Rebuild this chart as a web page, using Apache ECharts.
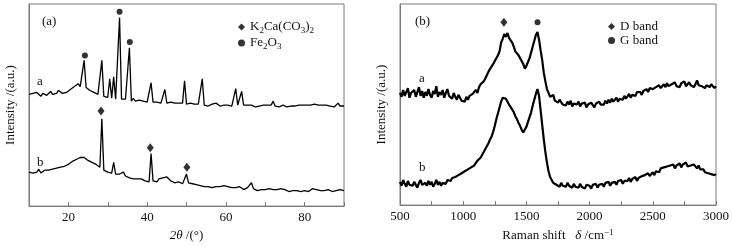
<!DOCTYPE html>
<html>
<head>
<meta charset="utf-8">
<script src="https://cdn.jsdelivr.net/npm/echarts@6/dist/echarts.min.js"></script>
<style>
html, body { margin: 0; padding: 0; background: #fff; }
#chart { width: 732px; height: 247px; }
</style>
</head>
<body>
<div id="chart"></div>
<script>
// (a) XRD, 2θ from 10 to 90 every 0.5°
const xrdStart = 10
const xrdStep = 0.5
const xrdA = [
  115, 113, 116, 114, 117, 115, 113, 116, 115, 114,
  116, 118, 115, 117, 116, 119, 117, 116, 118, 117,
  119, 120, 121, 123, 124, 126, 123, 125, 150, 122,
  120, 119, 118, 117, 116, 115, 114, 150, 113, 112,
  112, 131, 111, 133, 110, 111, 194, 110, 109, 110,
  109, 163, 108, 111, 108, 107, 109, 107, 108, 106,
  107, 109, 127, 107, 106, 107, 105, 106, 107, 120,
  106, 105, 107, 105, 106, 104, 106, 105, 106, 129,
  105, 104, 106, 104, 105, 103, 105, 104, 131, 104,
  105, 103, 104, 105, 103, 106, 104, 103, 105, 104,
  103, 104, 105, 103, 104, 121, 104, 103, 118, 104,
  103, 104, 102, 104, 103, 102, 104, 103, 102, 104,
  103, 104, 102, 104, 108, 103, 104, 102, 103, 104,
  103, 102, 104, 103, 105, 103, 102, 104, 103, 104,
  103, 104, 102, 104, 103, 105, 103, 104, 102, 104,
  103, 104, 105, 103, 104, 102, 104, 106, 103, 104,
  103
]
const xrdB = [
  35, 37, 34, 36, 35, 38, 34, 36, 37, 35,
  37, 36, 38, 37, 39, 38, 40, 39, 41, 42,
  43, 44, 46, 45, 48, 47, 50, 49, 50, 48,
  47, 46, 45, 44, 43, 41, 40, 90, 37, 36,
  35, 36, 34, 45, 33, 32, 33, 32, 35, 31,
  30, 29, 27, 28, 26, 28, 30, 28, 27, 26,
  27, 25, 54, 26, 27, 25, 28, 27, 29, 28,
  30, 28, 26, 25, 24, 26, 25, 24, 23, 25,
  33, 24, 22, 23, 21, 22, 20, 21, 22, 20,
  21, 20, 22, 19, 21, 20, 18, 20, 19, 21,
  19, 20, 18, 19, 17, 19, 18, 20, 18, 17,
  18, 19, 17, 24, 18, 17, 16, 18, 17, 16,
  17, 16, 18, 16, 17, 15, 17, 16, 18, 16,
  17, 16, 15, 17, 16, 18, 16, 17, 15, 17,
  16, 17, 15, 16, 18, 16, 17, 15, 16, 17,
  16, 15, 17, 16, 15, 17, 16, 15, 17, 16,
  16
]
const fe2o3Marks = [[24.2, 155], [33.0, 200], [35.6, 169]]
const k2caMarks = [[28.3, 98], [40.8, 60], [50.1, 40]]
const xrdLabels = [20, 40, 60, 80]

// (b) Raman, 500 to 3000 cm-1 every 12.5
const ramanStart = 500
const ramanStep = 12.5
const ramanA = [
  116, 112, 119, 113, 117, 121, 111, 116,
  114, 119, 112, 117, 122, 113, 118, 111,
  117, 113, 120, 114, 111, 118, 115, 123,
  112, 117, 114, 119, 111, 116, 120, 113,
  114, 110, 116, 112, 109, 114, 111, 108,
  110, 107, 112, 109, 113, 111, 115, 114,
  119, 116, 122, 125, 123, 128, 131, 129,
  138, 141, 139, 146, 149, 147, 155, 159,
  168, 172, 177, 174, 178, 173, 171, 168,
  164, 159, 161, 155, 152, 149, 146, 141,
  144, 148, 152, 158, 164, 170, 176, 179,
  171, 160, 150, 137, 128, 120, 116, 112,
  111, 114, 108, 110, 106, 109, 107, 104,
  106, 103, 107, 104, 108, 102, 105, 103,
  104, 107, 102, 105, 103, 106, 101, 104,
  103, 106, 104, 101, 105, 103, 107, 104,
  106, 104, 108, 105, 109, 106, 110, 107,
  108, 111, 107, 110, 112, 109, 113, 110,
  112, 115, 111, 114, 116, 113, 117, 115,
  117, 114, 118, 116, 120, 117, 121, 119,
  120, 118, 122, 120, 124, 121, 123, 125,
  122, 126, 123, 121, 125, 124, 127, 123,
  125, 122, 126, 124, 128, 123, 125, 127,
  124, 126, 122, 125, 129, 124, 126, 123,
  125, 121, 124, 126, 122, 125, 123, 121,
  123
]
const ramanB = [
  24, 20, 26, 22, 19, 25, 21, 23,
  20, 24, 22, 18, 23, 26, 21, 19,
  23, 20, 25, 21, 24, 19, 22, 26,
  21, 24, 20, 23, 25, 22, 26, 24,
  25, 28, 26, 29, 27, 31, 29, 33,
  31, 35, 33, 37, 35, 39, 38, 41,
  43, 46, 45, 49, 51, 55, 58, 60,
  64, 68, 71, 76, 82, 89, 95, 101,
  107, 111, 113, 110, 108, 104, 102, 99,
  96, 92, 89, 85, 82, 78, 75, 77,
  81, 86, 91, 96, 103, 109, 115, 120,
  113, 98, 83, 68, 55, 44, 35, 29,
  26, 23, 25, 21, 22, 19, 23, 20,
  22, 19, 23, 20, 21, 18, 22, 19,
  21, 18, 22, 19, 20, 17, 21, 19,
  20, 17, 21, 19, 22, 18, 21, 20,
  22, 19, 23, 21, 24, 20, 23, 22,
  24, 21, 25, 23, 26, 22, 25, 24,
  25, 28, 24, 27, 26, 29, 25, 28,
  27, 30, 28, 31, 29, 33, 30, 32,
  34, 31, 35, 37, 34, 38, 36, 39,
  37, 40, 38, 41, 39, 42, 38, 41,
  40, 43, 39, 42, 41, 44, 40, 42,
  41, 39, 42, 40, 38, 41, 37, 39,
  37, 34, 36, 33, 35, 32, 34, 31,
  32
]
const dBandMarks = [[1322, 189]]
const gBandMarks = [[1588, 189]]
const ramanLabels = [500, 1000, 1500, 2000, 2500, 3000]

const serif = '"Liberation Serif", "Times New Roman", serif'
const frameColor = '#7a7a7a'
const textColor = '#111'

const toPairs = (start, step, values) => values.map((v, i) => [start + i * step, v])

const legendNames = {
  'K2Ca(CO3)2': '{n|K}{s|2}{n|Ca(CO}{s|3}{n|)}{s|2}',
  'Fe2O3': '{n|Fe}{s|2}{n|O}{s|3}',
  'D band': '{n|D band}',
  'G band': '{n|G band}'
}
const richSub = {
  n: { fontFamily: serif, fontSize: 13, color: textColor, lineHeight: 16 },
  s: { fontFamily: serif, fontSize: 9, color: textColor, lineHeight: 16, verticalAlign: 'bottom', padding: [6, 0, 0, 0] }
}

const makeXAxis = (gridIndex, min, max, interval, labels, name) => ({
  gridIndex,
  type: 'value',
  min,
  max,
  interval,
  name,
  nameLocation: 'middle',
  nameGap: 20,
  nameTextStyle: {
    fontFamily: serif,
    fontSize: 13,
    color: textColor,
    rich: {
      i: { fontFamily: serif, fontSize: 13, fontStyle: 'italic', color: textColor },
      n: { fontFamily: serif, fontSize: 13, color: textColor },
      sup: { fontFamily: serif, fontSize: 9, color: textColor, verticalAlign: 'top', padding: [0, 0, 6, 0] }
    }
  },
  axisLine: { show: true, lineStyle: { color: frameColor, width: 1 } },
  axisTick: { show: true, inside: true, length: 4, lineStyle: { color: frameColor } },
  axisLabel: {
    margin: 5,
    fontFamily: serif,
    fontSize: 13,
    color: textColor,
    showMinLabel: true,
    showMaxLabel: true,
    formatter: (value) => (labels.includes(value) ? String(value) : '')
  },
  splitLine: { show: false }
})

const makeYAxis = (gridIndex) => ({
  gridIndex,
  type: 'value',
  min: 0,
  max: 208,
  name: 'Intensity /(a.u.)',
  nameLocation: 'middle',
  nameGap: 12,
  nameTextStyle: { fontFamily: serif, fontSize: 13, color: textColor },
  axisLine: { show: true, lineStyle: { color: frameColor } },
  axisTick: { show: false },
  axisLabel: { show: false },
  splitLine: { show: false }
})

const lineSeries = (name, xIndex, data, width) => ({
  name,
  type: 'line',
  xAxisIndex: xIndex,
  yAxisIndex: xIndex,
  data,
  symbol: 'none',
  lineStyle: { color: '#000', width },
  silent: true
})

const markSeries = (name, xIndex, data, symbol, size) => ({
  name,
  type: 'scatter',
  xAxisIndex: xIndex,
  yAxisIndex: xIndex,
  data,
  symbol,
  symbolSize: size,
  itemStyle: { color: '#000' },
  silent: true
})

const label = (text, x, y) => ({
  type: 'text',
  left: x,
  top: y,
  style: { text, font: '13px "Liberation Serif", serif', fill: textColor }
})

const legendBox = (left, names) => ({
  left,
  top: 15,
  orient: 'vertical',
  itemWidth: 7,
  itemHeight: 7,
  itemGap: 1,
  selectedMode: false,
  itemStyle: { borderWidth: 0 },
  data: [
    { name: names[0], icon: 'diamond' },
    { name: names[1], icon: 'circle' }
  ],
  formatter: (name) => legendNames[name],
  textStyle: { rich: richSub }
})

const myChart = echarts.init(document.getElementById('chart'))
myChart.setOption({
  animation: false,
  grid: [
    { left: 29, top: 4, width: 315, height: 208, show: true, borderColor: frameColor, borderWidth: 1 },
    { left: 400, top: 4, width: 316, height: 208, show: true, borderColor: frameColor, borderWidth: 1 }
  ],
  xAxis: [
    makeXAxis(0, 10, 90, 10, xrdLabels, '{i|2θ}{n| /(°)}'),
    makeXAxis(1, 500, 3000, 250, ramanLabels, '{n|Raman shift   }{i|δ}{n| /cm}{sup|−1}')
  ],
  yAxis: [makeYAxis(0), makeYAxis(1)],
  legend: [
    legendBox(233, ['K2Ca(CO3)2', 'Fe2O3']),
    legendBox(603, ['D band', 'G band'])
  ],
  graphic: [
    label('(a)', 42, 15),
    label('a', 37, 75),
    label('b', 37, 156),
    label('(b)', 415, 15),
    label('a', 419, 72),
    label('b', 419, 161)
  ],
  series: [
    lineSeries('xrd-a', 0, toPairs(xrdStart, xrdStep, xrdA), 1.3),
    lineSeries('xrd-b', 0, toPairs(xrdStart, xrdStep, xrdB), 1.3),
    markSeries('K2Ca(CO3)2', 0, k2caMarks, 'diamond', [7, 9]),
    markSeries('Fe2O3', 0, fe2o3Marks, 'circle', 6),
    lineSeries('raman-a', 1, toPairs(ramanStart, ramanStep, ramanA), 2.2),
    lineSeries('raman-b', 1, toPairs(ramanStart, ramanStep, ramanB), 2.2),
    markSeries('D band', 1, dBandMarks, 'diamond', [7, 9]),
    markSeries('G band', 1, gBandMarks, 'circle', 6)
  ]
})
</script>
</body>
</html>
